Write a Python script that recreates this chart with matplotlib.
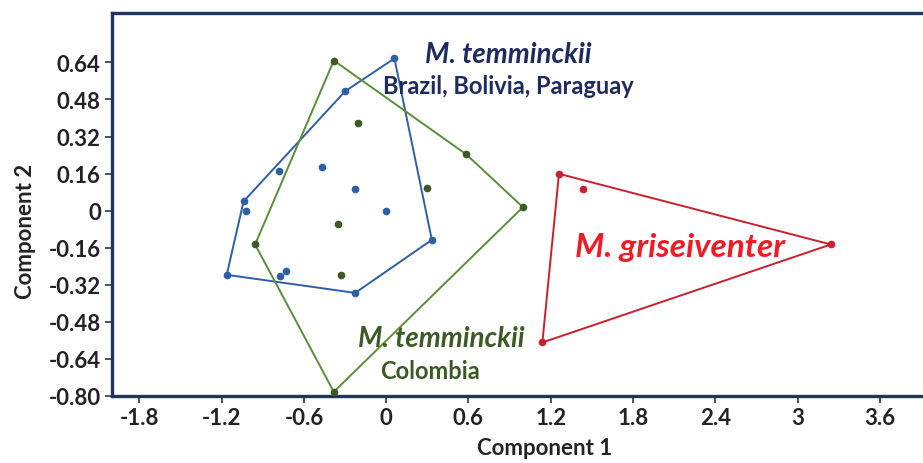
import matplotlib.pyplot as plt

plt.rcParams["font.family"] = ["Lato", "DejaVu Sans"]
plt.rcParams["font.weight"] = "bold"

# M. temminckii, Brazil / Bolivia / Paraguay
blue_x = [0.06, -0.30, -0.78, -0.467, -0.224, 0.0, -1.04, -1.022, 0.333, -0.226, -1.163, -0.777, -0.73]
blue_y = [0.657, 0.515, 0.170, 0.19, 0.093, 0.0, 0.040, 0.0, -0.126, -0.355, -0.277, -0.28, -0.26]
blue_hull = [0, 8, 9, 10, 6, 1, 0]

# M. temminckii, Colombia
green_x = [-0.382, -0.204, 0.584, 0.997, 0.296, -0.35, -0.956, -0.326, -0.382]
green_y = [0.648, 0.379, 0.243, 0.015, 0.099, -0.058, -0.146, -0.279, -0.782]
green_hull = [0, 2, 3, 8, 6, 0]

# M. griseiventer
red_x = [1.26, 1.438, 3.243, 1.139]
red_y = [0.159, 0.093, -0.146, -0.569]
red_hull = [0, 2, 3, 0]

xticks = [-1.8, -1.2, -0.6, 0, 0.6, 1.2, 1.8, 2.4, 3, 3.6]
xlabels = ["-1.8", "-1.2", "-0.6", "0", "0.6", "1.2", "1.8", "2.4", "3", "3.6"]
yticks = [0.64, 0.48, 0.32, 0.16, 0, -0.16, -0.32, -0.48, -0.64, -0.80]
ylabels = ["0.64", "0.48", "0.32", "0.16", "0", "-0.16", "-0.32", "-0.48", "-0.64", "-0.80"]

groups = [
    (blue_x, blue_y, blue_hull, "#2e5ea6", "#2e5ea6"),
    (green_x, green_y, green_hull, "#5b8c3a", "#3b5a24"),
    (red_x, red_y, red_hull, "#c8202f", "#c8202f"),
]

fig = plt.figure(figsize=(9.23, 4.64), dpi=100)
ax = fig.add_axes([0.1213, 0.1444, 0.8787, 0.8254])

for xs, ys, hull, lc, dc in groups:
    ax.plot([xs[i] for i in hull], [ys[i] for i in hull], color=lc, lw=1.4, zorder=2)
    ax.plot(xs, ys, "o", color=dc, ms=4.5, zorder=3)

ax.set_xlim(-2.0, 3.915)
ax.set_ylim(-0.80, 0.853)
ax.set_xticks(xticks)
ax.set_xticklabels(xlabels)
ax.set_yticks(yticks)
ax.set_yticklabels(ylabels)
ax.tick_params(direction="out", length=5, width=1.2, color="#333333",
               labelsize=16, labelcolor="#222222", pad=3)

navy = "#1f3560"
for side in ["left", "top", "bottom"]:
    ax.spines[side].set_color(navy)
    ax.spines[side].set_linewidth(2.4)
ax.spines["right"].set_visible(False)

ax.set_xlabel("Component 1", fontsize=16, fontweight="bold", color="#222222")
ax.xaxis.set_label_coords(0.533, -0.108)
ax.set_ylabel("Component 2", fontsize=16, fontweight="bold", color="#222222")
ax.yaxis.set_label_coords(-0.094, 0.431)

ax.text(0.89, 0.677, "M. temminckii", style="italic", fontweight="bold", fontsize=20,
        color="#1f2a5e", ha="center", va="center")
ax.text(0.89, 0.54, "Brazil, Bolivia, Paraguay", fontweight="bold", fontsize=17,
        color="#1f2a5e", ha="center", va="center")
ax.text(0.40, -0.55, "M. temminckii", style="italic", fontweight="bold", fontsize=20,
        color="#3b5a24", ha="center", va="center")
ax.text(0.32, -0.688, "Colombia", fontweight="bold", fontsize=17,
        color="#3b5a24", ha="center", va="center")
ax.text(2.146, -0.156, "M. griseiventer", style="italic", fontweight="bold", fontsize=24,
        color="#ee1c25", ha="center", va="center")

fig.savefig("out.png", dpi=100, facecolor="white")
